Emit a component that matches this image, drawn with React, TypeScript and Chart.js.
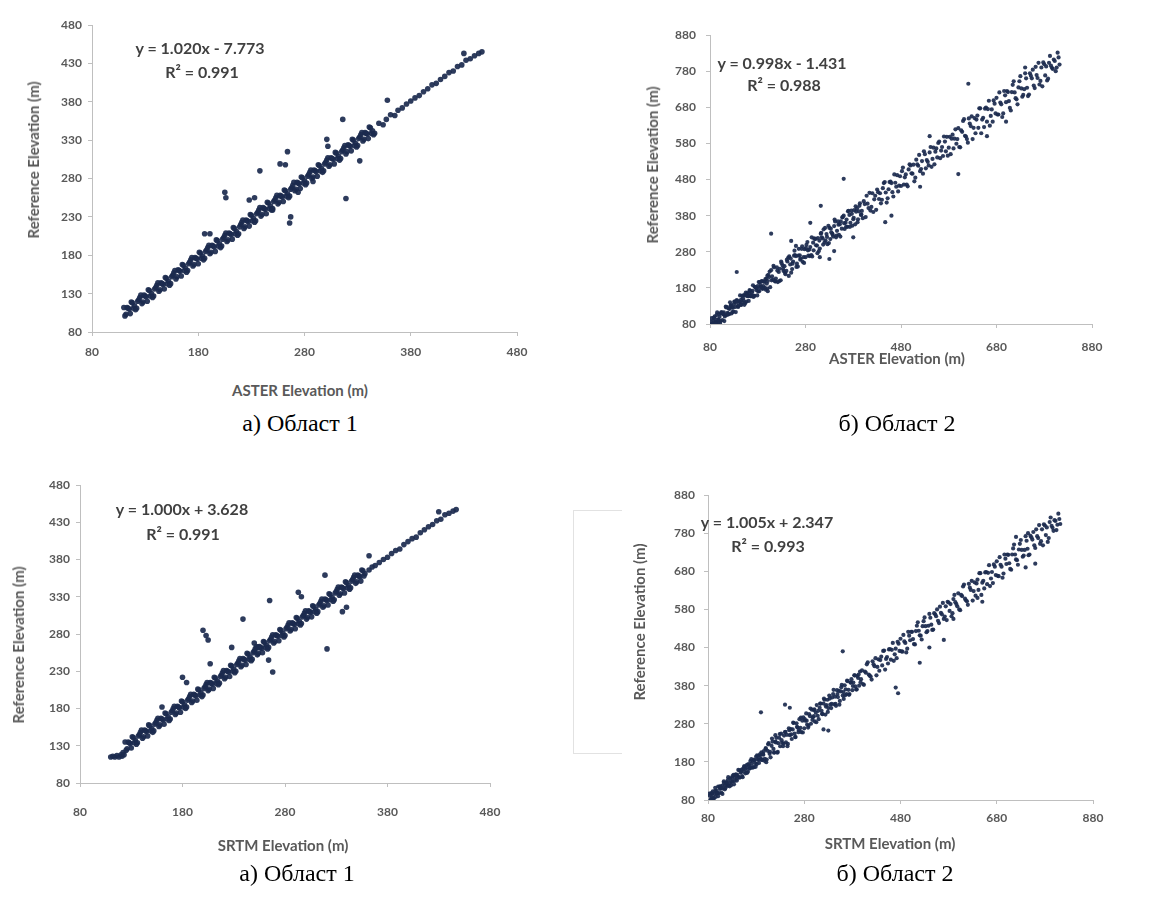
import React, { useEffect, useRef } from "react";
import { Chart, registerables } from "chart.js";
Chart.register(...registerables);

// ---------- DATA ----------
const X_TICKS_1 = [80, 180, 280, 380, 480];
const Y_TICKS_1 = [80, 130, 180, 230, 280, 330, 380, 430, 480];
const X_TICKS_2 = [80, 280, 480, 680, 880];
const Y_TICKS_2 = [80, 180, 280, 380, 480, 580, 680, 780, 880];

const EQ_ASTER_1 = ["y = 1.020x - 7.773", "R² = 0.991"];
const EQ_ASTER_2 = ["y = 0.998x - 1.431", "R² = 0.988"];
const EQ_SRTM_1 = ["y = 1.000x + 3.628", "R² = 0.991"];
const EQ_SRTM_2 = ["y = 1.005x + 2.347", "R² = 0.993"];

const CAPTIONS = ["а) Област 1", "б) Област 2", "а) Област 1", "б) Област 2"];
const X_TITLES = ["ASTER Elevation (m)", "ASTER Elevation (m)", "SRTM Elevation (m)", "SRTM Elevation (m)"];
const Y_TITLE = "Reference Elevation (m)";

// а) top: ASTER vs reference, region 1
const ASTER1_BAND_A: [number, number][] = [
  [110,112],[112,103],[114,111],[116,104],[118,118],[120,114],[122,111],[124,122],[126,128],[128,119],
  [130,127],[132,120],[134,134],[136,130],[138,127],[140,138],[142,144],[144,135],[146,143],[148,136],
  [150,150],[152,146],[154,143],[156,154],[158,160],[160,152],[162,160],[164,153],[166,167],[168,163],
  [170,160],[172,171],[174,177],[176,168],[178,176],[180,169],[182,183],[184,179],[186,176],[188,187],
  [190,193],[192,184],[194,192],[196,185],[198,199],[200,195],[202,192],[204,203],[206,209],[208,200],
  [210,208],[212,201],[214,215],[216,211],[218,208],[220,220],[222,226],[224,217],[226,225],[228,218],
  [230,232],[232,228],[234,225],[236,236],[238,242],[240,233],[242,241],[244,234],[246,248],[248,244],
  [250,241],[252,252],[254,258],[256,249],[258,257],[260,250],[262,264],[264,260],[266,257],[268,268],
  [270,275],[272,266],[274,274],[276,267],[278,281],[280,277],[282,274],[284,285],[286,291],[288,282],
  [290,290],[292,283],[294,297],[296,293],[298,290],[300,301],[302,307],[304,298],[306,306],[308,299],
  [310,313],[312,309],[314,306],[316,317],[318,323],[320,315],[322,323],[324,316],[326,330],[328,326],
  [330,323],[332,334],[334,340],[336,331],[338,339],[340,332],[342,346],[344,342],[346,339],
];
const ASTER1_BAND_B: [number, number][] = [
  [111,101],[113,112],[115,110],[117,119],[119,111],[121,109],[123,120],[125,125],[127,117],[129,128],
  [131,126],[133,135],[135,127],[137,125],[139,136],[141,141],[143,133],[145,144],[147,142],[149,151],
  [151,143],[153,141],[155,152],[157,157],[159,149],[161,161],[163,159],[165,168],[167,160],[169,158],
  [171,169],[173,174],[175,166],[177,177],[179,175],[181,184],[183,176],[185,174],[187,185],[189,190],
  [191,182],[193,193],[195,191],[197,200],[199,192],[201,190],[203,201],[205,206],[207,198],[209,209],
  [211,207],[213,216],[215,208],[217,206],[219,217],[221,223],[223,215],[225,226],[227,224],[229,233],
  [231,225],[233,223],[235,234],[237,239],[239,231],[241,242],[243,240],[245,249],[247,241],[249,239],
  [251,250],[253,255],[255,247],[257,258],[259,256],[261,265],[263,257],[265,255],[267,266],[269,271],
  [271,264],[273,275],[275,273],[277,282],[279,274],[281,272],[283,283],[285,288],[287,280],[289,291],
  [291,289],[293,298],[295,290],[297,288],[299,299],[301,304],[303,296],[305,307],[307,305],[309,314],
  [311,306],[313,304],[315,315],[317,320],[319,312],[321,324],[323,322],[325,331],[327,323],[329,321],
  [331,332],[333,337],[335,329],[337,340],[339,338],[341,347],[343,339],[345,337],
];
const ASTER1_TAIL: [number, number][] = [
  [350,352],[354,350],[357,357],[361,363],[365,362],[368,369],[372,372],[376,377],[380,381],[384,385],
  [388,388],[392,393],[396,397],[400,402],[404,404],[408,409],[412,413],[416,418],[420,420],[424,426],
  [428,428],[432,434],[436,436],[440,440],[444,443],[447,445],[358,382],[430,443],
];
const ASTER1_OUTLIERS: [number, number][] = [
  [205,262],[206,255],[186,208],[191,208],[233,255],[238,290],[264,315],[266,222],[267,230],[319,254],
  [316,357],[301,331],[302,322],[257,299],[228,252],[250,239],[274,262],[262,298],[332,303],[288,276],
];

// а) bottom: SRTM vs reference, region 1
const SRTM1_BAND_A: [number, number][] = [
  [110,115],[112,116],[114,115],[116,117],[118,115],[120,118],[121,116],[122,121],[123,118],
  [124,135],[126,126],[128,134],[130,127],[132,141],[134,137],[136,134],[138,145],[140,151],[142,142],
  [144,150],[146,143],[148,157],[150,153],[152,150],[154,161],[156,167],[158,158],[160,166],[162,159],
  [164,173],[166,169],[168,166],[170,177],[172,183],[174,174],[176,182],[178,175],[180,189],[182,185],
  [184,182],[186,193],[188,199],[190,190],[192,198],[194,191],[196,205],[198,201],[200,198],[202,209],
  [204,215],[206,206],[208,214],[210,207],[212,221],[214,217],[216,214],[218,225],[220,231],[222,222],
  [224,230],[226,223],[228,237],[230,233],[232,230],[234,241],[236,247],[238,238],[240,246],[242,239],
  [244,253],[246,249],[248,246],[250,257],[252,263],[254,254],[256,262],[258,255],[260,269],[262,265],
  [264,262],[266,273],[268,279],[270,270],[272,278],[274,271],[276,285],[278,281],[280,278],[282,289],
  [284,295],[286,286],[288,294],[290,287],[292,301],[294,297],[296,294],[298,305],[300,311],[302,302],
  [304,310],[306,303],[308,317],[310,313],[312,310],[314,321],[316,327],[318,318],[320,326],[322,319],
  [324,333],[326,329],[328,326],[330,337],[332,343],[334,334],[336,342],[338,335],[340,349],[342,345],
  [344,342],[346,353],[348,359],[350,350],[352,358],[354,351],[356,365],[358,361],
];
const SRTM1_BAND_B: [number, number][] = [
  [125,124],[127,135],[129,133],[131,142],[133,134],[135,132],[137,143],[139,148],[141,140],[143,151],
  [145,149],[147,158],[149,150],[151,148],[153,159],[155,164],[157,156],[159,167],[161,165],[163,174],
  [165,166],[167,164],[169,175],[171,180],[173,172],[175,183],[177,181],[179,190],[181,182],[183,180],
  [185,191],[187,196],[189,188],[191,199],[193,197],[195,206],[197,198],[199,196],[201,207],[203,212],
  [205,204],[207,215],[209,213],[211,222],[213,214],[215,212],[217,223],[219,228],[221,220],[223,231],
  [225,229],[227,238],[229,230],[231,228],[233,239],[235,244],[237,236],[239,247],[241,245],[243,254],
  [245,246],[247,244],[249,255],[251,260],[253,252],[255,263],[257,261],[259,270],[261,262],[263,260],
  [265,271],[267,276],[269,268],[271,279],[273,277],[275,286],[277,278],[279,276],[281,287],[283,292],
  [285,284],[287,295],[289,293],[291,302],[293,294],[295,292],[297,303],[299,308],[301,300],[303,311],
  [305,309],[307,318],[309,310],[311,308],[313,319],[315,324],[317,316],[319,327],[321,325],[323,334],
  [325,326],[327,324],[329,335],[331,340],[333,332],[335,343],[337,341],[339,350],[341,342],[343,340],
  [345,351],[347,356],[349,348],[351,359],[353,357],[355,366],[357,358],
];
const SRTM1_TAIL: [number, number][] = [
  [362,366],[365,370],[368,372],[372,376],[376,380],[380,383],[384,388],[388,392],[392,394],[396,400],
  [400,404],[404,408],[408,410],[412,416],[416,420],[420,424],[424,427],[428,432],[432,434],[436,440],
  [440,442],[444,445],[447,447],[362,385],[430,444],
];
const SRTM1_OUTLIERS: [number, number][] = [
  [200,285],[203,278],[205,272],[180,222],[184,215],[207,240],[239,300],[265,325],[293,336],[296,330],
  [319,359],[321,260],[268,229],[254,262],[228,262],[336,310],[340,316],[250,268],[160,182],[264,245],
];

// б) top: ASTER vs reference, region 2
const ASTER2_LOW: [number, number][] = [
  [82,86],[85,80],[88,98],[91,86],[94,105],[97,84],[100,100],[103,110],[106,91],[109,112],
  [112,105],[115,127],[118,108],[121,122],[124,132],[127,113],[130,135],[133,127],[136,146],[139,127],
  [142,141],[145,147],[148,140],[151,160],[154,138],[157,163],[160,157],[163,174],[166,157],[169,172],
  [172,158],[175,182],[178,179],[181,170],[184,196],[187,183],[190,177],[193,197],[196,204],[199,192],
  [84,80],[87,89],[90,101],[93,85],[96,92],[99,108],[102,88],[105,110],[108,107],[111,101],
  [114,126],[117,111],[120,107],[123,130],[126,126],[129,114],[132,142],[135,139],[138,129],[141,142],
  [144,133],[147,158],[150,145],[153,159],[156,142],[159,167],[162,165],[165,157],[168,167],[171,155],
  [174,183],[177,174],[180,185],[183,171],[186,188],[189,199],[192,185],[195,180],[198,205],[201,199],
  [83,96],[86,81],[89,95],[92,82],[95,112],[98,92],[101,83],[104,113],[107,108],[110,88],
  [113,128],[116,105],[119,123],[122,140],[125,109],[128,125],[131,142],[134,113],[137,144],[140,131],
  [143,159],[146,133],[149,151],[152,133],[155,167],[158,157],[161,144],[164,172],[167,159],[170,187],
  [173,158],[176,181],[179,159],[182,196],[185,180],[188,198],[191,179],[194,197],[197,175],[200,213],
];
const ASTER2_MID: [number, number][] = [
  [202,216],[206,182],[210,212],[214,237],[218,206],[222,196],[226,233],[230,248],[234,227],[238,218],
  [242,253],[246,267],[250,222],[254,253],[258,271],[262,247],[266,288],[270,261],[274,252],[278,287],
  [282,299],[286,269],[290,293],[294,267],[298,317],[302,298],[306,318],[310,289],[314,320],[318,342],
  [322,311],[326,301],[330,346],[334,334],[338,322],[342,364],[346,338],[350,327],[354,364],[358,376],
  [362,343],[366,369],[370,393],[374,360],[378,352],[382,395],[386,391],[390,370],[394,414],[398,393],
  [200,178],[204,210],[208,229],[212,203],[216,198],[220,237],[224,224],[228,201],[232,242],[236,240],
  [240,227],[244,264],[248,245],[252,232],[256,269],[260,268],[264,239],[268,270],[272,288],[276,265],
  [280,265],[284,307],[288,286],[292,271],[296,305],[300,315],[304,297],[308,282],[312,330],[316,317],
  [320,306],[324,329],[328,352],[332,315],[336,330],[340,351],[344,320],[348,364],[352,356],[356,344],
  [360,380],[364,360],[368,349],[372,382],[376,394],[380,370],[384,356],[388,400],[392,392],[396,382],
  [201,171],[205,225],[209,201],[213,241],[217,198],[221,228],[225,199],[229,253],[233,233],[237,222],
  [241,258],[245,213],[249,261],[253,247],[257,283],[261,238],[265,269],[269,258],[273,295],[277,249],
  [281,290],[285,284],[289,268],[293,320],[297,284],[301,316],[305,276],[309,311],[313,332],[317,300],
  [321,346],[325,321],[329,304],[333,344],[337,327],[341,369],[345,325],[349,355],[353,322],[357,375],
  [361,359],[365,349],[369,392],[373,349],[377,385],[381,374],[385,406],[389,362],[393,407],[397,383],
];
const ASTER2_UPPER: [number, number][] = [
  [402,420],[406,376],[410,413],[414,443],[418,404],[422,390],[426,435],[430,452],[434,426],[438,414],
  [442,456],[446,473],[450,416],[454,453],[458,474],[462,445],[466,494],[470,460],[474,447],[478,489],
  [482,503],[486,466],[490,494],[494,461],[498,522],[502,497],[506,521],[510,485],[514,522],[518,548],
  [522,509],[526,496],[530,550],[534,534],[538,519],[542,570],[546,537],[550,522],[554,566],[558,581],
  [562,539],[566,570],[570,599],[574,558],[578,546],[582,598],[586,593],[590,566],[594,619],[598,592],
  [400,373],[404,412],[408,435],[412,401],[416,394],[420,442],[424,425],[428,396],[432,445],[436,442],
  [440,424],[444,470],[448,444],[452,428],[456,473],[460,470],[464,433],[468,471],[472,492],[476,463],
  [480,462],[484,513],[488,486],[492,466],[496,508],[500,519],[504,496],[508,475],[512,535],[516,518],
  [520,503],[524,531],[528,558],[532,511],[536,529],[540,555],[544,515],[548,568],[552,557],[556,541],
  [560,585],[564,560],[568,545],[572,585],[576,598],[580,568],[584,550],[588,604],[592,593],[596,579],
  [600,622],[604,569],[608,612],[612,647],[616,599],[620,582],[624,635],[628,655],[632,623],[636,608],
  [640,657],[644,677],[648,608],[652,651],[656,676],[660,640],[664,698],[668,656],[672,640],[676,690],
  [680,706],[684,660],[688,693],[692,653],[696,725],[700,694],[704,722],[708,678],[712,722],[716,752],
  [720,705],[724,688],[728,752],[732,732],[736,714],[740,774],[744,734],[748,715],[752,767],[756,784],
  [760,733],[764,769],[768,803],[772,753],[776,738],[780,799],[784,793],[788,759],[792,822],[796,789],
  [800,812],[804,780],[808,831],[812,798],
  [602,570],[606,616],[610,642],[614,601],[618,592],[622,649],[626,628],[630,592],[634,650],[638,646],
  [642,623],[646,677],[650,646],[654,625],[658,679],[662,675],[666,629],[670,674],[674,699],[678,663],
  [682,660],[686,721],[690,688],[694,663],[698,713],[702,725],[706,697],[710,671],[714,742],[718,721],
  [722,702],[726,735],[730,766],[734,709],[738,730],[742,760],[746,711],[750,774],[754,760],[758,740],
  [762,792],[766,761],[770,743],[774,790],[778,804],[782,768],[786,754],[790,803],[794,795],[798,786],
  [802,808],[806,790],[810,818],
];
const ASTER2_OUTLIERS: [number, number][] = [
  [136,224],[208,330],[250,310],[260,296],[290,360],[310,265],[330,260],[340,282],[312,407],[360,482],
  [447,362],[460,380],[600,495],[621,745],[660,600],[700,640],[740,790],[380,320],[520,460],[540,600],
];

// б) bottom: SRTM vs reference, region 2
const SRTM2_LOW: [number, number][] = [
  [84,91],[85,80],[87,98],[88,88],[90,103],[91,85],[93,96],[95,104],[96,88],[98,104],
  [100,98],[101,115],[103,98],[105,109],[106,116],[108,99],[110,118],[111,110],[113,125],[115,108],
  [116,118],[118,123],[120,117],[121,132],[123,118],[125,124],[126,137],[128,119],[130,138],[131,129],
  [133,146],[135,130],[136,139],[138,147],[140,131],[141,146],[143,141],[145,158],[146,139],[148,152],
  [150,160],[151,143],[153,162],[155,154],[156,168],[158,150],[160,164],[161,172],[163,154],[165,171],
  [166,162],[168,182],[170,165],[171,175],[173,183],[175,166],[176,186],[178,177],[180,194],[181,174],
  [183,187],[185,196],[186,177],[188,196],[190,188],[191,205],[193,185],[195,199],[196,208],[198,188],
  [83,97],[86,81],[89,97],[92,84],[95,112],[98,97],[101,90],[104,115],[107,111],[110,96],
  [113,129],[116,111],[119,126],[122,140],[125,116],[128,129],[131,143],[134,121],[137,146],[140,136],
  [143,159],[146,139],[149,154],[152,140],[155,168],[158,161],[161,151],[164,174],[167,164],[170,187],
  [173,165],[176,184],[179,167],[182,197],[185,185],[188,200],[191,185],[194,200],[197,183],[200,214],
];
const SRTM2_MID: [number, number][] = [
  [200,216],[202,186],[204,209],[206,229],[208,201],[210,192],[212,222],[214,233],[216,214],[218,205],
  [220,233],[222,243],[224,204],[226,229],[228,243],[230,221],[232,254],[234,230],[236,221],[238,249],
  [240,258],[242,231],[244,251],[246,227],[248,268],[250,250],[252,266],[254,240],[256,265],[258,282],
  [260,254],[262,245],[264,281],[266,270],[268,258],[270,292],[272,269],[274,258],[276,288],[278,297],
  [280,268],[282,288],[284,307],[286,278],[288,270],[290,305],[292,300],[294,280],[296,317],[298,297],
  [300,316],[302,286],[304,309],[306,329],[308,301],[310,292],[312,322],[314,333],[316,314],[318,305],
  [320,333],[322,343],[324,304],[326,329],[328,343],[330,321],[332,354],[334,330],[336,321],[338,349],
  [340,358],[342,331],[344,351],[346,327],[348,368],[350,350],[352,366],[354,340],[356,365],[358,382],
  [360,354],[362,345],[364,381],[366,370],[368,358],[370,392],[372,369],[374,358],[376,388],[378,397],
  [380,368],[382,388],[384,407],[386,378],[388,370],[390,405],[392,400],[394,380],[396,417],[398,397],
  [201,179],[205,226],[209,206],[213,241],[217,204],[221,231],[225,206],[229,253],[233,237],[237,228],
  [241,259],[245,221],[249,263],[253,252],[257,283],[261,245],[265,272],[269,263],[273,296],[277,257],
  [281,292],[285,288],[289,275],[293,320],[297,290],[301,318],[305,284],[309,314],[313,333],[317,306],
  [321,346],[325,325],[329,311],[333,346],[337,332],[341,369],[345,332],[349,358],[353,330],[357,376],
  [361,363],[365,355],[369,393],[373,356],[377,388],[381,379],[385,407],[389,370],[393,409],[397,389],
];
const SRTM2_UPPER: [number, number][] = [
  [400,420],[404,382],[408,414],[412,441],[416,406],[420,396],[424,436],[428,452],[432,429],[436,419],
  [440,456],[444,471],[448,422],[452,455],[456,475],[460,448],[464,492],[468,462],[472,452],[476,490],
  [480,503],[484,469],[488,496],[492,467],[496,521],[500,499],[504,521],[508,489],[512,523],[516,546],
  [520,512],[524,501],[528,549],[532,536],[536,523],[540,568],[544,540],[548,527],[552,567],[556,580],
  [560,544],[564,571],[568,597],[572,561],[576,552],[580,598],[584,594],[588,570],[592,618],[596,594],
  [402,384],[406,417],[410,436],[414,409],[418,404],[422,444],[426,431],[430,407],[434,449],[438,447],
  [442,433],[446,472],[450,450],[454,438],[458,476],[462,474],[466,445],[470,477],[474,495],[478,471],
  [482,470],[486,513],[490,492],[494,477],[498,511],[502,521],[506,502],[510,488],[514,537],[518,524],
  [522,511],[526,536],[530,559],[534,520],[538,537],[542,558],[546,526],[550,570],[554,562],[558,550],
  [562,587],[566,567],[570,555],[574,588],[578,600],[582,576],[586,562],[590,607],[594,599],[598,588],
  [600,622],[604,578],[608,615],[612,645],[616,604],[620,592],[624,637],[628,655],[632,628],[636,616],
  [640,658],[644,675],[648,618],[652,655],[656,677],[660,646],[664,696],[668,661],[672,649],[676,692],
  [680,706],[684,667],[688,697],[692,663],[696,724],[700,699],[704,723],[708,686],[712,724],[716,750],
  [720,711],[724,697],[728,752],[732,736],[736,721],[740,772],[744,739],[748,724],[752,769],[756,783],
  [760,741],[764,772],[768,801],[772,759],[776,748],[780,800],[784,795],[788,767],[792,821],[796,794],
  [800,814],[804,788],[808,831],[812,804],
  [602,580],[606,618],[610,640],[614,608],[618,601],[622,647],[626,631],[630,603],[634,651],[638,648],
  [642,631],[646,675],[650,650],[654,635],[658,678],[662,676],[666,641],[670,678],[674,698],[678,670],
  [682,668],[686,717],[690,692],[694,674],[698,713],[702,724],[706,701],[710,684],[714,740],[718,724],
  [722,709],[726,737],[730,762],[734,718],[738,736],[742,760],[746,722],[750,773],[754,763],[758,748],
  [762,790],[766,767],[770,752],[774,790],[778,803],[782,775],[786,757],[790,809],[794,799],[798,786],
  [802,812],[806,802],[810,817],
];
const SRTM2_OUTLIERS: [number, number][] = [
  [190,310],[240,330],[250,322],[320,265],[330,262],[360,470],[470,375],[475,360],[520,440],[540,480],
  [590,555],[640,610],[720,770],[745,780],[760,700],[740,690],[220,250],[300,300],[570,500],[650,600],
];

// ---------- STYLE ----------
const POINT_COLOR = "rgba(27,42,78,0.92)";
const AXIS_COLOR = "#bfbfbf";
const TEXT_COLOR = "#595959";
const SANS = "Lato, 'Open Sans', sans-serif";

type Panel = {
  canvas: { left: number; top: number; width: number; height: number };
  area: { left: number; top: number; right: number; bottom: number };
  xMin: number; xMax: number; xStep: number;
  yMin: number; yMax: number; yStep: number;
  points: [number, number][];
  radius: number;
  xPad: number; yPad: number;
};

const PANELS: Panel[] = [
  {
    canvas: { left: 0, top: 0, width: 560, height: 380 },
    area: { left: 92, top: 25, right: 517, bottom: 332 },
    xMin: X_TICKS_1[0], xMax: X_TICKS_1[X_TICKS_1.length - 1], xStep: 100,
    yMin: Y_TICKS_1[0], yMax: Y_TICKS_1[Y_TICKS_1.length - 1], yStep: 50,
    points: [...ASTER1_BAND_A, ...ASTER1_BAND_B, ...ASTER1_TAIL, ...ASTER1_OUTLIERS],
    radius: 2.8, xPad: 9, yPad: 6,
  },
  {
    canvas: { left: 600, top: 0, width: 571, height: 380 },
    area: { left: 710, top: 35, right: 1092, bottom: 324 },
    xMin: X_TICKS_2[0], xMax: X_TICKS_2[X_TICKS_2.length - 1], xStep: 200,
    yMin: Y_TICKS_2[0], yMax: Y_TICKS_2[Y_TICKS_2.length - 1], yStep: 100,
    points: [...ASTER2_LOW, ...ASTER2_MID, ...ASTER2_UPPER, ...ASTER2_OUTLIERS],
    radius: 2.1, xPad: 12, yPad: 10,
  },
  {
    canvas: { left: 0, top: 440, width: 560, height: 400 },
    area: { left: 80, top: 485, right: 490, bottom: 783 },
    xMin: X_TICKS_1[0], xMax: X_TICKS_1[X_TICKS_1.length - 1], xStep: 100,
    yMin: Y_TICKS_1[0], yMax: Y_TICKS_1[Y_TICKS_1.length - 1], yStep: 50,
    points: [...SRTM1_BAND_A, ...SRTM1_BAND_B, ...SRTM1_TAIL, ...SRTM1_OUTLIERS],
    radius: 2.8, xPad: 18, yPad: 6,
  },
  {
    canvas: { left: 600, top: 440, width: 571, height: 420 },
    area: { left: 708, top: 495, right: 1093, bottom: 800 },
    xMin: X_TICKS_2[0], xMax: X_TICKS_2[X_TICKS_2.length - 1], xStep: 200,
    yMin: Y_TICKS_2[0], yMax: Y_TICKS_2[Y_TICKS_2.length - 1], yStep: 100,
    points: [...SRTM2_LOW, ...SRTM2_MID, ...SRTM2_UPPER, ...SRTM2_OUTLIERS],
    radius: 2.1, xPad: 7, yPad: 9,
  },
];

const X_AXIS_H = 40;

function ScatterPanel({ p }: { p: Panel }) {
  const ref = useRef<HTMLCanvasElement | null>(null);
  useEffect(() => {
    if (!ref.current) return;
    const c = p.canvas;
    const aLeft = p.area.left - c.left;
    const aTop = p.area.top - c.top;
    const aRight = p.area.right - c.left;
    const aBottom = p.area.bottom - c.top;
    const tickFont = { family: SANS, size: 12, weight: "bold" as const };
    const chart = new Chart(ref.current, {
      type: "scatter",
      data: {
        datasets: [
          {
            data: p.points.map(([x, y]) => ({ x, y })),
            pointRadius: p.radius,
            pointBackgroundColor: POINT_COLOR,
            pointBorderWidth: 0,
            showLine: false,
          },
        ],
      },
      options: {
        responsive: false,
        animation: false,
        devicePixelRatio: 1,
        layout: {
          padding: {
            left: 0,
            top: aTop,
            right: c.width - aRight,
            bottom: c.height - aBottom - X_AXIS_H,
          },
        },
        plugins: { legend: { display: false }, tooltip: { enabled: false } },
        scales: {
          x: {
            type: "linear",
            min: p.xMin,
            max: p.xMax,
            ticks: { stepSize: p.xStep, color: TEXT_COLOR, font: tickFont, padding: p.xPad, maxRotation: 0, autoSkip: false },
            grid: { display: true, drawOnChartArea: false, drawTicks: true, tickLength: 4, color: AXIS_COLOR },
            border: { display: true, color: AXIS_COLOR, width: 1 },
            afterFit: (s: any) => { s.height = X_AXIS_H; },
          },
          y: {
            type: "linear",
            min: p.yMin,
            max: p.yMax,
            ticks: { stepSize: p.yStep, color: TEXT_COLOR, font: tickFont, padding: p.yPad, autoSkip: false },
            grid: { display: true, drawOnChartArea: false, drawTicks: true, tickLength: 4, color: AXIS_COLOR },
            border: { display: true, color: AXIS_COLOR, width: 1 },
            afterFit: (s: any) => { s.width = aLeft; },
          },
        },
      },
    });
    return () => chart.destroy();
  }, [p]);
  return (
    <canvas
      ref={ref}
      width={p.canvas.width}
      height={p.canvas.height}
      style={{ position: "absolute", left: p.canvas.left, top: p.canvas.top, width: p.canvas.width, height: p.canvas.height }}
    />
  );
}

const centered = (x: number, y: number): React.CSSProperties => ({
  position: "absolute",
  left: x,
  top: y,
  transform: "translate(-50%, -50%)",
  whiteSpace: "nowrap",
});

const LABELS = [
  { eq: EQ_ASTER_1, eqPos: [[200, 47], [202, 71]], xt: [300, 390], yt: [33, 160], cap: [300, 423] },
  { eq: EQ_ASTER_2, eqPos: [[782, 62], [784, 84]], xt: [897, 358], yt: [652, 165], cap: [897, 423] },
  { eq: EQ_SRTM_1, eqPos: [[182, 508], [183, 533]], xt: [283, 845], yt: [18, 645], cap: [297, 873] },
  { eq: EQ_SRTM_2, eqPos: [[767, 521], [768, 545]], xt: [890, 843], yt: [639, 622], cap: [895, 873] },
];

export default function App() {
  return (
    <div style={{ position: "absolute", left: 0, top: 0, width: 1171, height: 898, background: "#fff", overflow: "hidden" }}>
      {PANELS.map((p, i) => (
        <ScatterPanel key={i} p={p} />
      ))}
      {LABELS.map((l, i) => (
        <React.Fragment key={i}>
          {l.eq.map((t, j) => (
            <div key={j} style={{ ...centered(l.eqPos[j][0], l.eqPos[j][1]), font: `bold 16px ${SANS}`, color: "#404040" }}>
              {t}
            </div>
          ))}
          <div style={{ ...centered(l.xt[0], l.xt[1]), font: `bold 15px ${SANS}`, color: TEXT_COLOR }}>{X_TITLES[i]}</div>
          <div
            style={{
              position: "absolute",
              left: l.yt[0],
              top: l.yt[1],
              transform: "translate(-50%, -50%) rotate(-90deg)",
              whiteSpace: "nowrap",
              font: `bold 15px ${SANS}`,
              color: TEXT_COLOR,
            }}
          >
            {Y_TITLE}
          </div>
          <div style={{ ...centered(l.cap[0], l.cap[1]), font: `24px 'Liberation Serif', 'Times New Roman', serif`, color: "#000" }}>
            {CAPTIONS[i]}
          </div>
        </React.Fragment>
      ))}
      <div
        style={{
          position: "absolute",
          left: 573,
          top: 510,
          width: 48,
          height: 242,
          borderTop: "1px solid #e2e2e2",
          borderLeft: "1px solid #e2e2e2",
          borderBottom: "1px solid #e2e2e2",
        }}
      />
    </div>
  );
}
